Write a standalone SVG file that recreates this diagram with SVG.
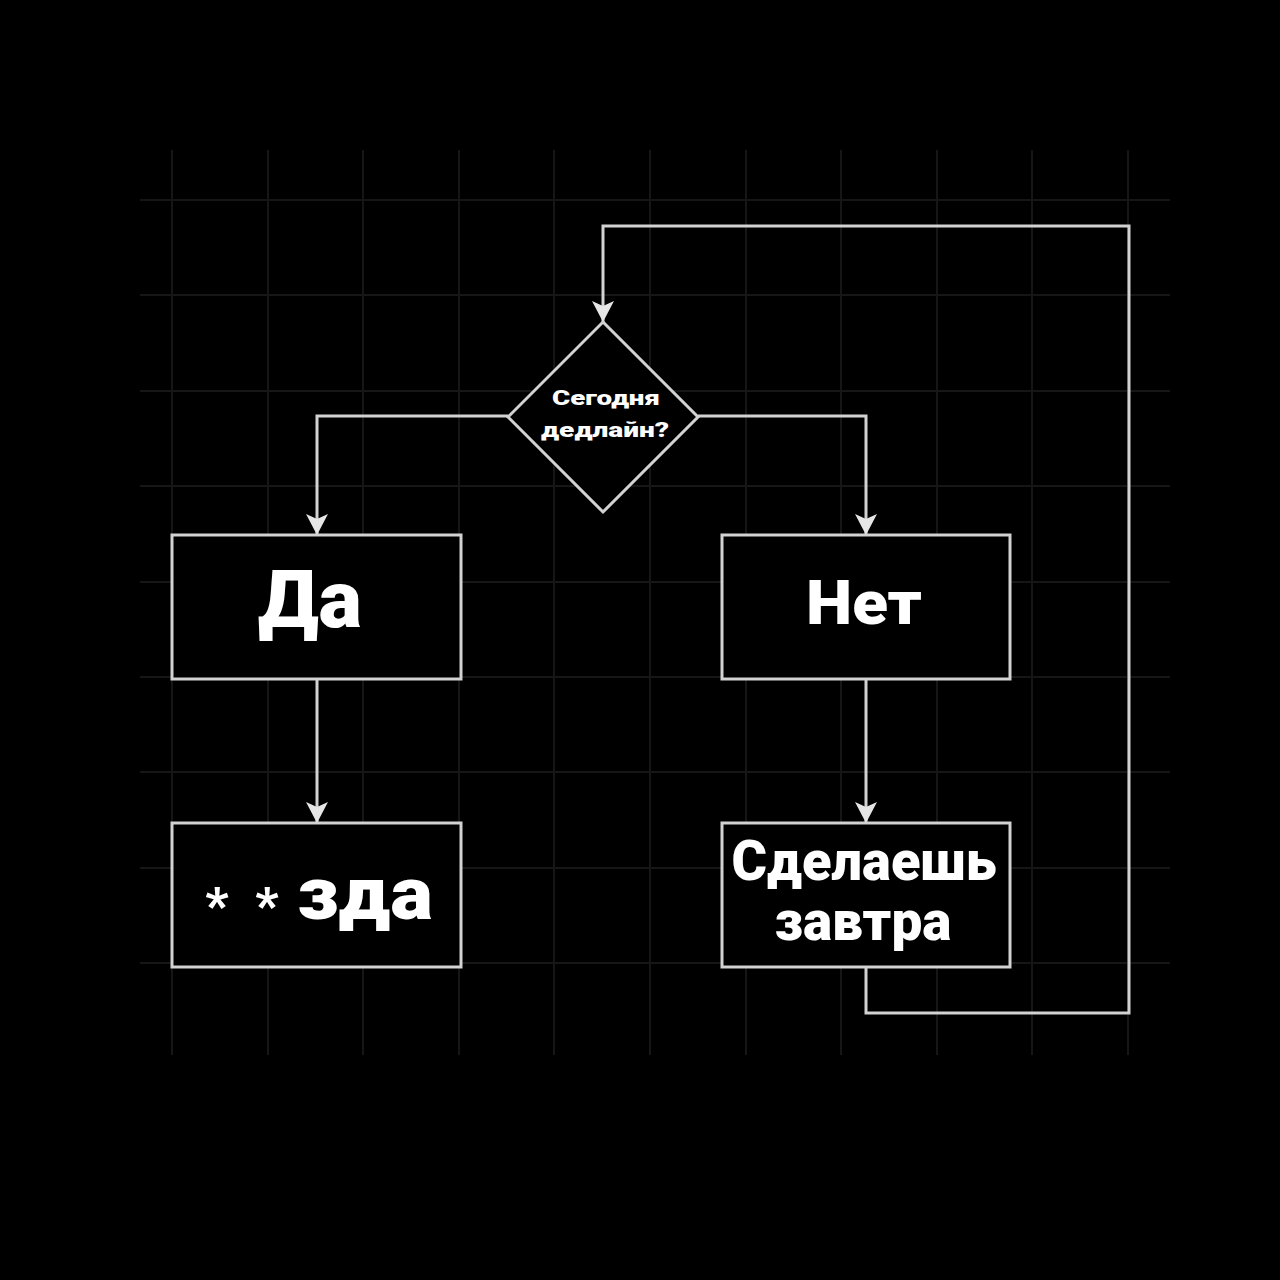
<svg xmlns="http://www.w3.org/2000/svg" width="1280" height="1280" viewBox="0 0 1280 1280">
<defs>
<style>
.grid line{stroke:#161616;stroke-width:2}
.box{fill:#000;stroke:#d2d2d2;stroke-width:3}
.conn{fill:none;stroke:#d2d2d2;stroke-width:3}
.t{font-family:Roboto,"Noto Sans","DejaVu Sans",sans-serif;font-weight:900;fill:#fff;text-anchor:middle}
</style>
<marker id="arr" markerUnits="userSpaceOnUse" markerWidth="22" markerHeight="22" viewBox="0 0 22 22" refX="21" refY="11" orient="auto">
<path d="M0,0 L21,11 L0,22 L5,11 z" fill="#e6e6e6"/>
</marker>
</defs>
<rect width="1280" height="1280" fill="#000"/>
<g class="grid">
<line x1="172" y1="150" x2="172" y2="1055"/>
<line x1="268" y1="150" x2="268" y2="1055"/>
<line x1="363" y1="150" x2="363" y2="1055"/>
<line x1="459" y1="150" x2="459" y2="1055"/>
<line x1="554" y1="150" x2="554" y2="1055"/>
<line x1="650" y1="150" x2="650" y2="1055"/>
<line x1="746" y1="150" x2="746" y2="1055"/>
<line x1="841" y1="150" x2="841" y2="1055"/>
<line x1="937" y1="150" x2="937" y2="1055"/>
<line x1="1032" y1="150" x2="1032" y2="1055"/>
<line x1="1128" y1="150" x2="1128" y2="1055"/>
<line x1="140" y1="200" x2="1170" y2="200"/>
<line x1="140" y1="295" x2="1170" y2="295"/>
<line x1="140" y1="391" x2="1170" y2="391"/>
<line x1="140" y1="486" x2="1170" y2="486"/>
<line x1="140" y1="582" x2="1170" y2="582"/>
<line x1="140" y1="677" x2="1170" y2="677"/>
<line x1="140" y1="772" x2="1170" y2="772"/>
<line x1="140" y1="868" x2="1170" y2="868"/>
<line x1="140" y1="963" x2="1170" y2="963"/>
</g>
<g id="connectors">
<path class="conn" d="M508,416 H317 V535" marker-end="url(#arr)"/>
<path class="conn" d="M698,416 H866 V535" marker-end="url(#arr)"/>
<path class="conn" d="M317,679 V823" marker-end="url(#arr)"/>
<path class="conn" d="M866,679 V823" marker-end="url(#arr)"/>
<path class="conn" d="M866,967 V1013 H1129 V226 H603 V322" marker-end="url(#arr)"/>
</g>
<g id="decision">
<polygon class="box" points="603,322 698,417 603,512 508,417"/>
<text class="t" x="606" y="405" font-size="20" font-weight="bold" textLength="108" lengthAdjust="spacingAndGlyphs">Сегодня</text>
<text class="t" x="605" y="437" font-size="20" font-weight="bold" textLength="128" lengthAdjust="spacingAndGlyphs">дедлайн?</text>
</g>
<g id="yes">
<rect class="box" x="172" y="535" width="289" height="144"/>
<text class="t" x="310" y="627" font-size="80" textLength="104" lengthAdjust="spacingAndGlyphs">Да</text>
</g>
<g id="no">
<rect class="box" x="722" y="535" width="288" height="144"/>
<text class="t" x="864" y="624" font-size="62" textLength="116" lengthAdjust="spacingAndGlyphs">Нет</text>
</g>
<g id="result">
<rect class="box" x="172" y="823" width="289" height="144"/>
<text class="t" x="217" y="923" font-size="50">*</text>
<text class="t" x="267" y="923" font-size="50">*</text>
<text class="t" x="365" y="919" font-size="75" textLength="136" lengthAdjust="spacingAndGlyphs">зда</text>
</g>
<g id="tomorrow">
<rect class="box" x="722" y="823" width="288" height="144"/>
<text class="t" x="864" y="880" font-size="56" textLength="265" lengthAdjust="spacingAndGlyphs">Сделаешь</text>
<text class="t" x="863" y="940" font-size="56" textLength="177" lengthAdjust="spacingAndGlyphs">завтра</text>
</g>
</svg>
